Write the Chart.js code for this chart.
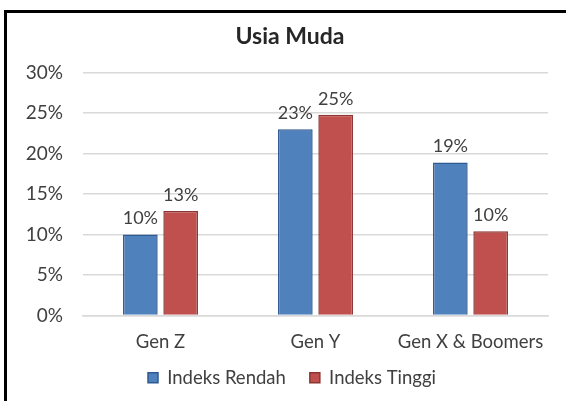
<!DOCTYPE html>
<html>
<head>
<meta charset="utf-8">
<script src="https://cdn.jsdelivr.net/npm/chart.js@4.4.1/dist/chart.umd.min.js"></script>
<style>
  html, body { margin: 0; padding: 0; background: #fff; overflow: hidden; }
  #frame { position: absolute; left: 4px; top: 10px; width: 700px; height: 500px;
           border: 3px solid #000; box-sizing: border-box; }
  #c { position: absolute; left: 0; top: 0; }
</style>
</head>
<body>
<div id="frame"></div>
<canvas id="c" width="566" height="401"></canvas>
<script>
var categories = ["Gen Z", "Gen Y", "Gen X & Boomers"];
var indeksRendah = [10.0, 23.0, 18.9];
var indeksTinggi = [12.9, 24.8, 10.4];
var yTicks = [0, 5, 10, 15, 20, 25, 30];

var fontName = "Lato, 'Liberation Sans', sans-serif";

// labels above each bar
var barLabels = {
  id: 'barLabels',
  afterLayout: function (chart) {
    // x labels would be clipped by the short axis box, let them overflow
    chart.scales.x.bottom = chart.scales.x.top + 50;
    // title and legend sit a bit right of the canvas centre
    chart.titleBlock.left += 16;
    chart.titleBlock.right += 16;
    chart.legend.left += 18;
    chart.legend.right += 18;
  },
  afterDatasetsDraw: function (chart) {
    var ctx = chart.ctx;
    ctx.save();
    ctx.font = "18px " + fontName;
    ctx.fillStyle = "#404040";
    ctx.textAlign = "center";
    ctx.textBaseline = "middle";
    chart.data.datasets.forEach(function (ds, i) {
      chart.getDatasetMeta(i).data.forEach(function (bar, j) {
        ctx.fillText(Math.round(ds.data[j]) + "%", bar.x, bar.y - 16);
      });
    });
    ctx.restore();
  }
};

var ctx = document.getElementById("c").getContext('2d');
var myChart = new Chart(ctx, {
  type: 'bar',
  data: {
    labels: categories,
    datasets: [{
      label: 'Indeks Rendah',
      data: indeksRendah,
      backgroundColor: "#4F81BD",
      borderColor: "#2F5A91",
      borderWidth: 1.5,
      barPercentage: 0.86,
      categoryPercentage: 0.52
    }, {
      label: 'Indeks Tinggi',
      data: indeksTinggi,
      backgroundColor: "#C0504D",
      borderColor: "#8C3533",
      borderWidth: 1.5,
      barPercentage: 0.86,
      categoryPercentage: 0.52
    }]
  },
  options: {
    responsive: false,
    animation: false,
    devicePixelRatio: 1,
    layout: { padding: { left: 0, right: 18, top: 23, bottom: 4 } },
    plugins: {
      title: {
        display: true,
        text: 'Usia Muda',
        color: '#262626',
        font: { family: fontName, size: 23, weight: 'bold' },
        padding: { top: 0, bottom: 22 }
      },
      legend: {
        position: 'bottom',
        labels: {
          color: '#404040',
          font: { family: fontName, size: 18.5 },
          boxWidth: 10,
          boxHeight: 10,
          padding: 24
        }
      },
      tooltip: { enabled: false }
    },
    scales: {
      x: {
        afterFit: function (scale) { scale.height = 29; },
        grid: { display: false, drawTicks: false },
        border: { color: '#D9D9D9', width: 1.5 },
        ticks: { color: '#404040', font: { family: fontName, size: 18.5 }, padding: 15 }
      },
      y: {
        min: 0,
        max: 30,
        afterFit: function (scale) { scale.width = 83; },
        afterBuildTicks: function (scale) {
          scale.ticks = yTicks.map(function (v) { return { value: v }; });
        },
        grid: { color: '#D9D9D9', lineWidth: 1.5, drawTicks: false },
        border: { display: false },
        ticks: {
          color: '#404040',
          font: { family: fontName, size: 19 },
          padding: 20,
          callback: function (v) { return v + '%'; }
        }
      }
    }
  },
  plugins: [barLabels]
});
</script>
</body>
</html>
